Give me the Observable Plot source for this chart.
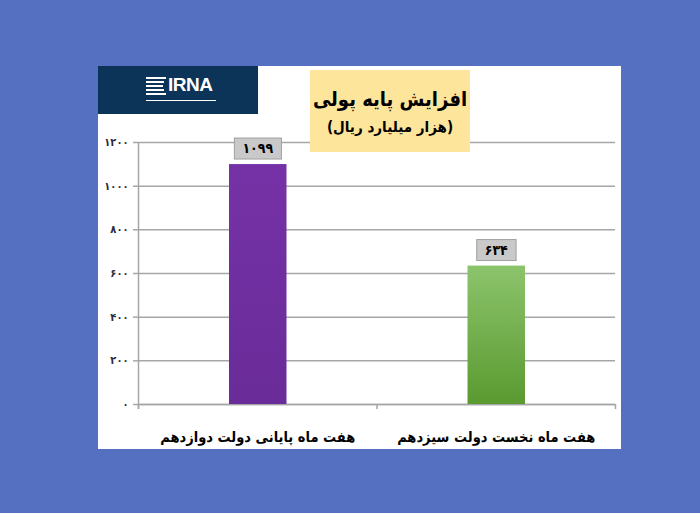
<!DOCTYPE html>
<html><head><meta charset="utf-8">
<script src="https://cdn.jsdelivr.net/npm/d3@7"></script>
<script src="https://cdn.jsdelivr.net/npm/@observablehq/plot@0.6"></script>
<style>
html,body{margin:0;padding:0;}
body{width:700px;height:513px;background:#5570c0;position:relative;overflow:hidden;font-family:"DejaVu Sans",sans-serif;}
#panel{position:absolute;left:98px;top:66px;width:523px;height:383px;background:#fff;}
#logo{position:absolute;left:98px;top:66px;width:160px;height:48px;background:#0c3458;z-index:2;}
#logo .t{position:absolute;left:70px;top:8px;color:#fff;font:bold 19px "Liberation Sans",Arial,sans-serif;letter-spacing:-0.5px;}
#logo .s{position:absolute;left:48px;height:2px;background:#fff;}
#logo .u{position:absolute;left:48px;top:34px;width:70px;height:1px;background:#fff;}
#title{position:absolute;left:310px;top:70px;width:160px;height:82px;background:#fde59b;z-index:2;text-align:center;direction:rtl;font-family:"DejaVu Sans Condensed","DejaVu Sans",sans-serif;font-weight:bold;color:#000;white-space:nowrap;}
#title .a{font-size:20px;margin-top:14px;line-height:30px;}
#title .b{font-size:15px;line-height:26px;}
#chart{position:absolute;left:98px;top:66px;z-index:1;}
</style></head><body>
<div id="panel"></div>
<div id="logo">
 <div class="s" style="top:11px;width:20px"></div>
 <div class="s" style="top:15px;width:18px"></div>
 <div class="s" style="top:19px;width:17px"></div>
 <div class="s" style="top:23px;width:18px"></div>
 <div class="s" style="top:27px;width:20px"></div>
 <div class="t">IRNA</div>
 <div class="u"></div>
</div>
<div id="title"><div class="a">افزایش پایه پولی</div><div class="b">(هزار میلیارد ریال)</div></div>
<div id="chart"></div>
<script>
const categories = ["هفت ماه پایانی دولت دوازدهم", "هفت ماه نخست دولت سیزدهم"];
const values = [1099, 634];
const valueLabels = ["۱۰۹۹", "۶۳۴"];
const barFills = ["url(#gPurple)", "url(#gGreen)"];
const yTicks = [0, 200, 400, 600, 800, 1000, 1200];
const yTickLabels = ["۰", "۲۰۰", "۴۰۰", "۶۰۰", "۸۰۰", "۱۰۰۰", "۱۲۰۰"];
const xSeparators = [0, 1, 2];

const data = categories.map((c, i) => ({i, c, v: values[i], lab: valueLabels[i], fill: barFills[i]}));

const plot = Plot.plot({
  width: 523, height: 383,
  marginLeft: 40, marginRight: 6, marginTop: 76, marginBottom: 45,
  style: {background: "transparent", fontFamily: "DejaVu Sans Condensed, DejaVu Sans, sans-serif"},
  x: {domain: [0, 2], axis: null},
  y: {domain: [0, 1200], axis: null},
  color: {type: "identity"},
  marks: [
    Plot.gridY(yTicks, {stroke: "#a6a6a6", strokeOpacity: 1, strokeWidth: 1.5}),
    Plot.axisY(yTicks, {tickFormat: (d) => yTickLabels[yTicks.indexOf(d)], tickSize: 5, tickPadding: 5, fontSize: 11, fontWeight: "bold", fill: "#2b2b40", stroke: "#a6a6a6", strokeWidth: 1.5}),
    Plot.axisX(xSeparators, {tickFormat: () => "", tickSize: 5, stroke: "#a6a6a6", strokeWidth: 1.5, label: null}),
    Plot.ruleY([0], {stroke: "#a6a6a6", strokeWidth: 1.5}),
    Plot.ruleX([0], {stroke: "#a6a6a6", strokeWidth: 1.5, insetBottom: -5}),
    Plot.rectY(data, {x: "i", interval: 1, y: "v", fill: "fill", insetLeft: 91, insetRight: 90}),
    Plot.text(data, {x: d => d.i + 0.5, y: "v", text: "lab", dy: -16, fontSize: 14, fontWeight: "bold", fill: "#000"}),
    Plot.text(data, {x: d => d.i + 0.5, y: 0, text: "c", dy: 33, fontSize: 14.5, fontWeight: "bold", fill: "#000", direction: "rtl"})
  ]
});
document.getElementById("chart").appendChild(plot);

// gradients
const svg = d3.select(plot);
const defs = svg.insert("defs", ":first-child");
const gp = defs.append("linearGradient").attr("id", "gPurple").attr("x1", 0).attr("x2", 0).attr("y1", 0).attr("y2", 1);
gp.append("stop").attr("offset", "0%").attr("stop-color", "#7532a6");
gp.append("stop").attr("offset", "100%").attr("stop-color", "#6a2c99");
const gg = defs.append("linearGradient").attr("id", "gGreen").attr("x1", 0).attr("x2", 0).attr("y1", 0).attr("y2", 1);
gg.append("stop").attr("offset", "0%").attr("stop-color", "#8cc46c");
gg.append("stop").attr("offset", "100%").attr("stop-color", "#5a9a30");

// boxes behind value labels
svg.selectAll("text").filter(function() { return valueLabels.includes(this.textContent); }).each(function() {
  const b = this.getBBox();
  const r = document.createElementNS("http://www.w3.org/2000/svg", "rect");
  r.setAttribute("x", b.x - 8); r.setAttribute("y", b.y - 2);
  r.setAttribute("width", b.width + 16); r.setAttribute("height", b.height + 5);
  if (this.getAttribute("transform")) r.setAttribute("transform", this.getAttribute("transform"));
  r.setAttribute("fill", "#c9c9c9"); r.setAttribute("stroke", "#a0a0a0");
  this.parentNode.insertBefore(r, this);
});
</script>
</body></html>
